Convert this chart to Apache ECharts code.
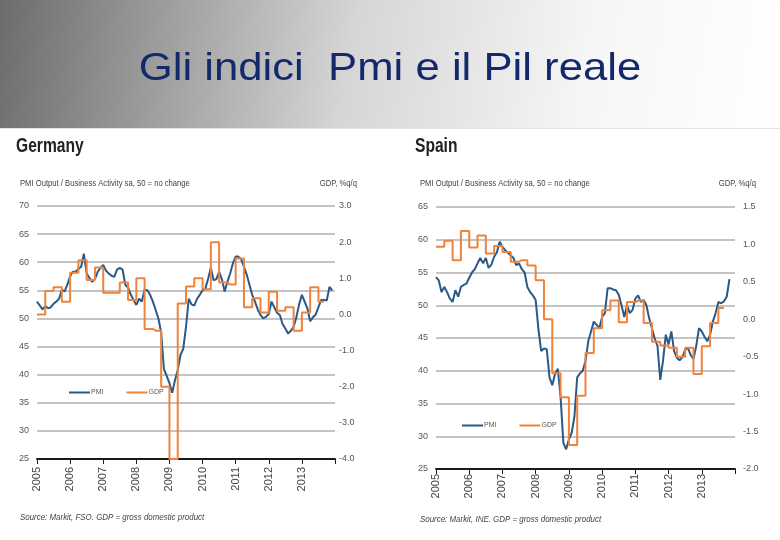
<!DOCTYPE html>
<html>
<head>
<meta charset="utf-8">
<title>Gli indici Pmi e il Pil reale</title>
<script src="https://cdn.jsdelivr.net/npm/echarts@6/dist/echarts.min.js"></script>
<style>
  html, body { margin: 0; padding: 0; background: #fff; }
  #container { width: 780px; height: 540px; }
</style>
</head>
<body>
<div id="container"></div>
<script>
// tick labels (one per year), monthly categories are built from them
var years = ['2005', '2006', '2007', '2008', '2009', '2010', '2011', '2012', '2013'];

// Germany, monthly PMI (Jan 2005 - Dec 2013)
var dePmi = [
  53.0, 52.3, 51.6, 52.2, 51.8, 52.0, 52.6, 53.0, 53.5, 55.1, 54.8, 56.0,
  57.5, 58.3, 58.3, 58.8, 59.2, 61.5, 58.0, 57.2, 56.5, 57.0, 58.3, 59.0,
  59.5, 58.5, 58.0, 57.6, 57.4, 58.7, 59.0, 58.7, 56.0, 55.5, 54.2, 53.3,
  52.4, 53.5, 53.0, 55.1, 55.0, 54.2, 53.0, 51.5, 50.0, 47.5, 41.0, 39.8,
  38.5, 36.8, 39.0, 40.8, 43.5, 44.6, 48.5, 53.5, 52.5, 52.3, 53.5, 54.2,
  55.0, 55.3, 57.0, 59.0, 56.8, 57.0, 58.3, 57.0, 54.8, 56.5, 58.0, 59.8,
  61.0, 61.0, 60.5, 59.2, 57.8, 56.0, 54.2, 53.0, 51.6, 50.6, 50.0, 50.3,
  50.8, 53.0, 52.0, 51.0, 50.6, 49.0, 48.2, 47.3, 47.8, 48.5, 50.2, 52.5,
  54.2, 53.0, 51.8, 49.5, 50.2, 50.7, 52.0, 53.3, 53.3, 53.2, 55.6, 55.0
];
// Germany, quarterly GDP %q/q (Q1 2005 - Q3 2013)
var deGdp = [
  0.0, 0.65, 0.75, 0.35,
  1.15, 1.5, 0.95, 1.3,
  0.6, 0.6, 0.88, 0.4,
  1.0, -0.4, -0.45, -2.0,
  -4.0, 0.3, 0.77, 1.0,
  0.7, 2.0, 0.88, 0.83,
  1.55, 0.2, 0.45, 0.05,
  0.63, 0.1, 0.2, -0.45,
  0.05, 0.75, 0.35
];

// Spain, monthly PMI (Jan 2005 - Dec 2013)
var esPmi = [
  54.3, 53.8, 52.0, 52.8, 52.0, 51.0, 50.5, 52.3, 51.3, 52.8, 53.1, 53.3,
  54.2, 55.0, 55.5, 56.4, 57.2, 56.4, 57.2, 55.7, 56.2, 57.4, 58.1, 59.7,
  58.9, 58.4, 58.0, 57.6, 57.2, 56.1, 56.4, 55.5, 55.0, 52.8, 52.0, 51.5,
  50.8, 46.3, 43.0, 43.4, 43.3, 39.0, 37.8, 39.5, 40.3, 36.0, 29.0, 28.0,
  29.5, 30.5, 33.0, 39.0, 39.6, 40.0, 41.5, 44.5, 46.0, 47.5, 47.0, 46.5,
  48.2, 48.8, 52.6, 52.6, 52.4, 52.3, 51.6, 50.0, 48.2, 50.0, 48.8, 49.3,
  51.0, 51.5, 50.5, 50.8, 50.0, 48.0, 46.5, 44.9, 43.8, 38.6, 41.5, 45.5,
  44.0, 46.0, 43.0, 42.0, 41.6, 42.1, 43.2, 43.5, 42.4, 41.8, 43.8, 46.5,
  46.0, 45.2, 44.5, 45.5, 47.5, 48.8, 50.5, 50.3, 50.6, 51.3, 54.0
];
// Spain, quarterly GDP %q/q (Q1 2005 - Q3 2013)
var esGdp = [
  0.97, 1.05, 0.79, 1.18,
  0.96, 1.12, 0.88, 0.98,
  0.9, 0.77, 0.79, 0.72,
  0.52, 0.0, -0.72, -1.04,
  -1.68, -1.02, -0.45, -0.12,
  0.12, 0.25, -0.04, 0.23,
  0.25, -0.05, -0.3, -0.35,
  -0.38, -0.5, -0.38, -0.73,
  -0.36, -0.05, 0.15
];

var months = [];
years.forEach(function (y) {
  for (var m = 1; m <= 12; m++) months.push(y + '-' + (m < 10 ? '0' + m : m));
});
months.push('2014-01');

// quarter value repeated on its three months, drawn as a step line
function toMonthly(q) {
  var out = [];
  for (var i = 0; i < q.length * 3; i++) out.push(q[Math.floor(i / 3)]);
  return out;
}

var FONT = '"Liberation Sans", Arial, sans-serif';
var BLUE = '#2b5987';
var ORANGE = '#f0823a';

function xAxis(grid, margin) {
  return {
    type: 'category', gridIndex: grid, data: months, boundaryGap: false,
    axisLine: { onZero: false, lineStyle: { color: '#1a1a1a', width: 2 } },
    axisTick: { interval: function (i) { return i % 12 === 0; }, length: 5, lineStyle: { color: '#1a1a1a' } },
    axisLabel: {
      interval: function (i) { return i % 12 === 0 && i < 108; },
      formatter: function (v) { return v.slice(0, 4); },
      rotate: 90, margin: margin, fontSize: 11, color: '#444', fontFamily: FONT
    },
    splitLine: { show: false }
  };
}
function leftAxis(grid, min, max) {
  return {
    type: 'value', gridIndex: grid, position: 'left', min: min, max: max, interval: 5,
    axisLine: { show: false }, axisTick: { show: false },
    axisLabel: { fontSize: 9, color: '#555', margin: 8, fontFamily: FONT },
    splitLine: { lineStyle: { color: '#c4c4c4', width: 2 } }
  };
}
function rightAxis(grid, min, max, step, margin) {
  return {
    type: 'value', gridIndex: grid, position: 'right', min: min, max: max, interval: step,
    axisLine: { show: false }, axisTick: { show: false }, splitLine: { show: false },
    axisLabel: { fontSize: 9, color: '#555', margin: margin, fontFamily: FONT,
      formatter: function (v) { return v.toFixed(1); } }
  };
}
function pmiSeries(x, y, data) {
  return { name: 'PMI', type: 'line', xAxisIndex: x, yAxisIndex: y, data: data,
    symbol: 'none', lineStyle: { color: BLUE, width: 2 }, itemStyle: { color: BLUE } };
}
function gdpSeries(x, y, q) {
  return { name: 'GDP', type: 'line', step: 'end', xAxisIndex: x, yAxisIndex: y, data: toMonthly(q),
    symbol: 'none', lineStyle: { color: ORANGE, width: 2 }, itemStyle: { color: ORANGE } };
}
function legend(left, top) {
  return {
    left: left, top: top, data: ['PMI', 'GDP'], icon: 'rect', itemWidth: 21, itemHeight: 2,
    itemGap: 23, selectedMode: false,
    textStyle: { fontSize: 7, color: '#555', fontFamily: FONT, padding: [0, 0, 0, -4] }
  };
}
function label(x, y, text, size, opts) {
  opts = opts || {};
  return {
    type: 'text', x: x, y: y, scaleX: opts.scaleX || 1, z: 10,
    style: {
      text: text, fill: opts.color || '#444', align: opts.align || 'left', verticalAlign: 'middle',
      font: (opts.style || '') + ' ' + size + 'px ' + FONT
    }
  };
}

var myChart = echarts.init(document.getElementById('container'));
var option = {
  animation: false,
  backgroundColor: '#fff',
  graphic: [
    {
      type: 'rect', shape: { x: 0, y: 0, width: 780, height: 128 }, z: -10,
      style: { fill: new echarts.graphic.LinearGradient(0, 0, 1, 1, [
        { offset: 0, color: '#6c6c6c' }, { offset: 0.45, color: '#d6d6d6' },
        { offset: 0.75, color: '#f6f6f6' }, { offset: 1, color: '#ffffff' }]) }
    },
    { type: 'rect', shape: { x: 0, y: 128, width: 780, height: 1 }, z: -9, style: { fill: '#e2e2e2' } },
    label(390, 69, 'Gli indici  Pmi e il Pil reale', 39, { color: '#13296b', align: 'center', scaleX: 1.12 }),
    label(16, 146, 'Germany', 20, { color: '#222', style: 'bold', scaleX: 0.78 }),
    label(415, 146, 'Spain', 20, { color: '#222', style: 'bold', scaleX: 0.78 }),
    label(20, 184, 'PMI Output / Business Activity sa, 50 = no change', 9, { scaleX: 0.85 }),
    label(357, 184, 'GDP, %q/q', 9, { align: 'right', scaleX: 0.85 }),
    label(420, 184, 'PMI Output / Business Activity sa, 50 = no change', 9, { scaleX: 0.85 }),
    label(756, 184, 'GDP, %q/q', 9, { align: 'right', scaleX: 0.85 }),
    label(20, 517, 'Source: Markit, FSO. GDP = gross domestic product', 9, { style: 'italic', scaleX: 0.88 }),
    label(420, 519, 'Source: Markit, INE. GDP = gross domestic product', 9, { style: 'italic', scaleX: 0.88 })
  ],
  legend: [legend(64, 384), legend(457, 417)],
  grid: [
    { left: 37, top: 206, width: 298, height: 253 },
    { left: 436, top: 207, width: 299, height: 262 }
  ],
  xAxis: [xAxis(0, 8), xAxis(1, 5)],
  yAxis: [
    leftAxis(0, 25, 70),
    rightAxis(0, -4, 3, 1, 4),
    leftAxis(1, 25, 65),
    rightAxis(1, -2, 1.5, 0.5, 8)
  ],
  series: [
    pmiSeries(0, 0, dePmi),
    gdpSeries(0, 1, deGdp),
    pmiSeries(1, 2, esPmi),
    gdpSeries(1, 3, esGdp)
  ]
};
myChart.setOption(option);
</script>
</body>
</html>
